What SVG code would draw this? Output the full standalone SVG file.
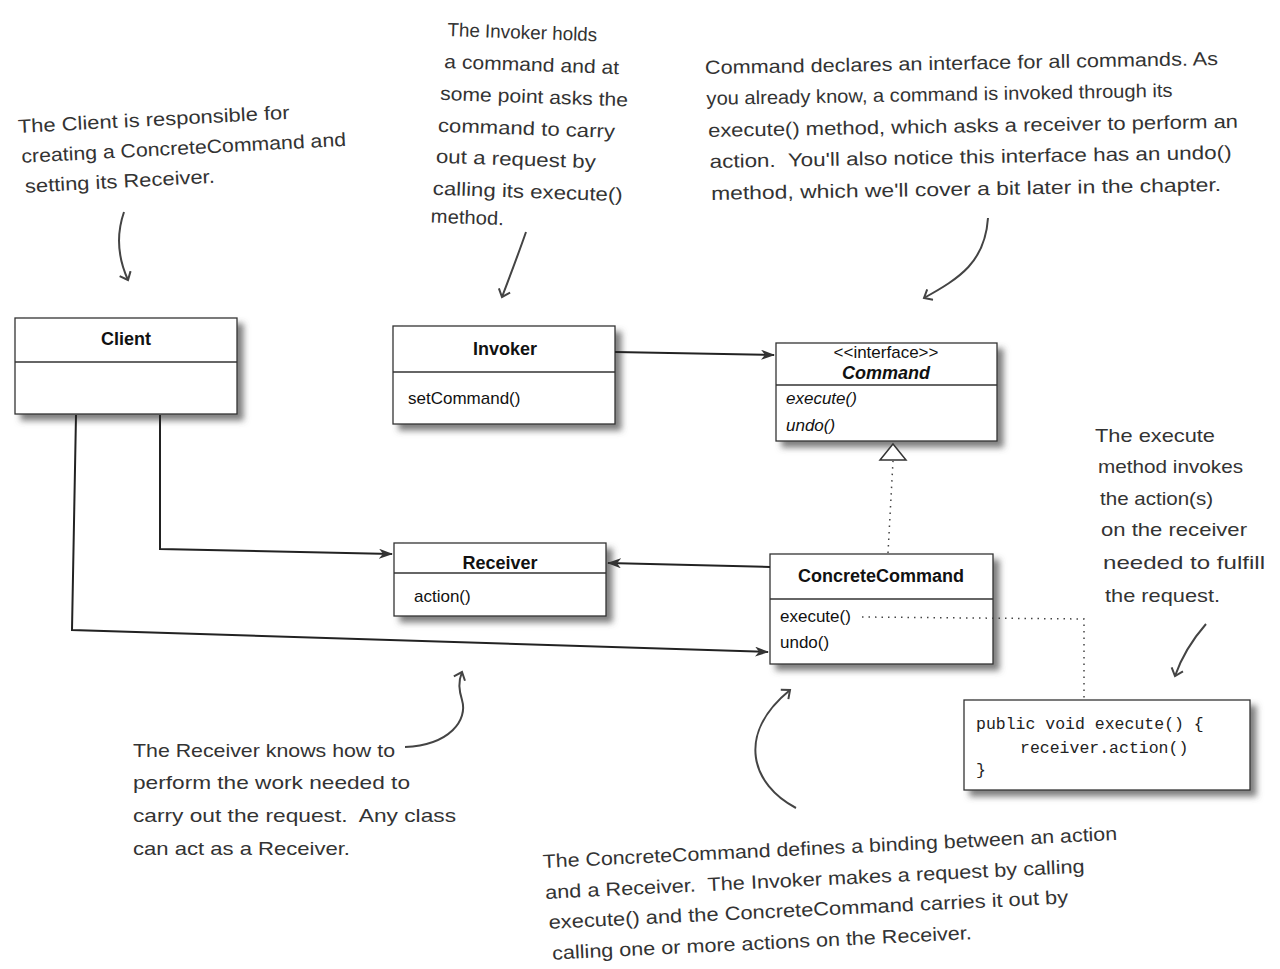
<svg xmlns="http://www.w3.org/2000/svg" width="1280" height="969" viewBox="0 0 1280 969">
<defs>
<filter id="sh" x="-10%" y="-10%" width="130%" height="140%">
<feDropShadow dx="6" dy="6" stdDeviation="3" flood-color="#555" flood-opacity="0.75"/>
</filter>
<marker id="arr" viewBox="0 0 14 10" refX="13" refY="5" markerWidth="14" markerHeight="10" markerUnits="userSpaceOnUse" orient="auto">
<path d="M0,0 L14,5 L0,10 L4,5 z" fill="#333"/>
</marker>
<marker id="hand" viewBox="0 0 16 16" refX="8" refY="8" markerWidth="16" markerHeight="16" markerUnits="userSpaceOnUse" orient="auto">
<path d="M1,2 L8,8 L1,14" fill="none" stroke="#444" stroke-width="2"/>
</marker>
</defs>
<style>
.box{fill:#fff;stroke:#333;stroke-width:1.3}
.div{stroke:#333;stroke-width:1.3}
.title{font-family:"Liberation Sans",Arial,sans-serif;font-size:18px;font-weight:bold;fill:#111;text-anchor:middle}
.op{font-family:"Liberation Sans",Arial,sans-serif;font-size:17px;fill:#111}
.it{font-style:italic}
.code{font-family:"Liberation Mono","Courier New",monospace;font-size:16.5px;fill:#222}
.conn{fill:none;stroke:#222;stroke-width:2}
.dot{fill:none;stroke:#444;stroke-width:1.5;stroke-dasharray:1.5 5}
.note{font-family:"Liberation Sans",Arial,sans-serif;font-size:19px;fill:#333;white-space:pre}
.harrow{fill:none;stroke:#444;stroke-width:2}
</style>

<g id="client">
<rect class="box" x="15" y="318" width="222" height="96" filter="url(#sh)"/>
<line class="div" x1="15" y1="362" x2="237" y2="362"/>
<text class="title" x="126" y="345">Client</text>
</g>

<g id="invoker">
<rect class="box" x="393" y="326" width="222" height="98" filter="url(#sh)"/>
<line class="div" x1="393" y1="372" x2="615" y2="372"/>
<text class="title" x="505" y="355">Invoker</text>
<text class="op" x="408" y="404">setCommand()</text>
</g>

<g id="command">
<rect class="box" x="776" y="343" width="221" height="98" filter="url(#sh)"/>
<text class="op" x="886" y="358" text-anchor="middle" font-size="15">&lt;&lt;interface&gt;&gt;</text>
<text class="title it" x="886" y="379">Command</text>
<line class="div" x1="776" y1="385" x2="997" y2="385"/>
<text class="op it" x="786" y="404">execute()</text>
<text class="op it" x="786" y="431">undo()</text>
</g>

<g id="receiver">
<rect class="box" x="394" y="543" width="212" height="73" filter="url(#sh)"/>
<line class="div" x1="394" y1="573" x2="606" y2="573"/>
<text class="title" x="500" y="569">Receiver</text>
<text class="op" x="414" y="602">action()</text>
</g>

<g id="concretecommand">
<rect class="box" x="770" y="554" width="223" height="110" filter="url(#sh)"/>
<text class="title" x="881" y="582">ConcreteCommand</text>
<line class="div" x1="770" y1="599" x2="993" y2="599"/>
<text class="op" x="780" y="622">execute()</text>
<text class="op" x="780" y="648">undo()</text>
</g>

<g id="code">
<rect class="box" x="964" y="700" width="286" height="90" filter="url(#sh)"/>
<text class="code" x="976" y="729">public void execute() {</text>
<text class="code" x="1020" y="753">receiver.action()</text>
<text class="code" x="976" y="775">}</text>
</g>

<g id="connectors">
<polyline class="conn" points="615,352 774,355" marker-end="url(#arr)"/>
<polyline class="conn" points="160,415 160,549 392,554" marker-end="url(#arr)"/>
<polyline class="conn" points="76,415 72,630 768,652" marker-end="url(#arr)"/>
<polyline class="conn" points="770,567 608,563" marker-end="url(#arr)"/>
<line class="dot" x1="888" y1="553" x2="893" y2="461"/>
<path d="M893,444 L906,460 L880,460 z" fill="#fff" stroke="#333" stroke-width="1.5"/>
<polyline class="dot" points="862,617 1084,619 1084,699"/>
</g>

<g id="note-client">
<g transform="rotate(-3 18 130)">
<text class="note" x="18" y="133" textLength="272" lengthAdjust="spacingAndGlyphs">The Client is responsible for</text>
<text class="note" x="20" y="163" textLength="325" lengthAdjust="spacingAndGlyphs">creating a ConcreteCommand and</text>
<text class="note" x="22" y="193" textLength="190" lengthAdjust="spacingAndGlyphs">setting its Receiver.</text>
</g>
<path class="harrow" d="M124,212 C116,235 118,258 128,280" marker-end="url(#hand)"/>
</g>

<g id="note-invoker">
<g transform="rotate(2 445 40)">
<text class="note" x="447" y="36" textLength="150" lengthAdjust="spacingAndGlyphs">The Invoker holds</text>
<text class="note" x="445" y="68" textLength="175" lengthAdjust="spacingAndGlyphs">a command and at</text>
<text class="note" x="442" y="100" textLength="188" lengthAdjust="spacingAndGlyphs">some point asks the</text>
<text class="note" x="441" y="132" textLength="177" lengthAdjust="spacingAndGlyphs">command to carry</text>
<text class="note" x="440" y="163" textLength="160" lengthAdjust="spacingAndGlyphs">out a request by</text>
<text class="note" x="438" y="195" textLength="190" lengthAdjust="spacingAndGlyphs">calling its execute()</text>
<text class="note" x="437" y="223" textLength="73" lengthAdjust="spacingAndGlyphs">method.</text>
</g>
<path class="harrow" d="M526,232 C518,255 510,276 502,297" marker-end="url(#hand)"/>
</g>

<g id="note-command">
<g transform="rotate(-1 705 70)">
<text class="note" x="705" y="74" textLength="513" lengthAdjust="spacingAndGlyphs">Command declares an interface for all commands. As</text>
<text class="note" x="706" y="105" textLength="466" lengthAdjust="spacingAndGlyphs">you already know, a command is invoked through its</text>
<text class="note" x="707" y="137" textLength="530" lengthAdjust="spacingAndGlyphs">execute() method, which asks a receiver to perform an</text>
<text class="note" x="708" y="168" textLength="522" lengthAdjust="spacingAndGlyphs">action.  You'll also notice this interface has an undo()</text>
<text class="note" x="709" y="200" textLength="510" lengthAdjust="spacingAndGlyphs">method, which we'll cover a bit later in the chapter.</text>
</g>
<path class="harrow" d="M988,218 C985,262 960,278 924,298" marker-end="url(#hand)"/>
</g>

<g id="note-execute">
<text class="note" x="1095" y="442" textLength="120" lengthAdjust="spacingAndGlyphs">The execute</text>
<text class="note" x="1098" y="473" textLength="145" lengthAdjust="spacingAndGlyphs">method invokes</text>
<text class="note" x="1100" y="505" textLength="113" lengthAdjust="spacingAndGlyphs">the action(s)</text>
<text class="note" x="1101" y="536" textLength="146" lengthAdjust="spacingAndGlyphs">on the receiver</text>
<text class="note" x="1103" y="569" textLength="162" lengthAdjust="spacingAndGlyphs">needed to fulfill</text>
<text class="note" x="1105" y="602" textLength="115" lengthAdjust="spacingAndGlyphs">the request.</text>
<path class="harrow" d="M1206,624 C1192,640 1182,656 1175,676" marker-end="url(#hand)"/>
</g>

<g id="note-receiver">
<text class="note" x="133" y="757" textLength="262" lengthAdjust="spacingAndGlyphs">The Receiver knows how to</text>
<text class="note" x="133" y="789" textLength="277" lengthAdjust="spacingAndGlyphs">perform the work needed to</text>
<text class="note" x="133" y="822" textLength="323" lengthAdjust="spacingAndGlyphs">carry out the request.  Any class</text>
<text class="note" x="133" y="855" textLength="217" lengthAdjust="spacingAndGlyphs">can act as a Receiver.</text>
<path class="harrow" d="M405,747 C450,745 468,720 462,700 C459,690 458,682 462,672" marker-end="url(#hand)"/>
</g>

<g id="note-concrete">
<g transform="rotate(-2.8 543 868)">
<text class="note" x="543" y="868" textLength="575" lengthAdjust="spacingAndGlyphs">The ConcreteCommand defines a binding between an action</text>
<text class="note" x="544" y="899" textLength="540" lengthAdjust="spacingAndGlyphs">and a Receiver.  The Invoker makes a request by calling</text>
<text class="note" x="546" y="929" textLength="520" lengthAdjust="spacingAndGlyphs">execute() and the ConcreteCommand carries it out by</text>
<text class="note" x="548" y="960" textLength="420" lengthAdjust="spacingAndGlyphs">calling one or more actions on the Receiver.</text>
</g>
<path class="harrow" d="M796,808 C752,785 735,735 790,690" marker-end="url(#hand)"/>
</g>
</svg>
